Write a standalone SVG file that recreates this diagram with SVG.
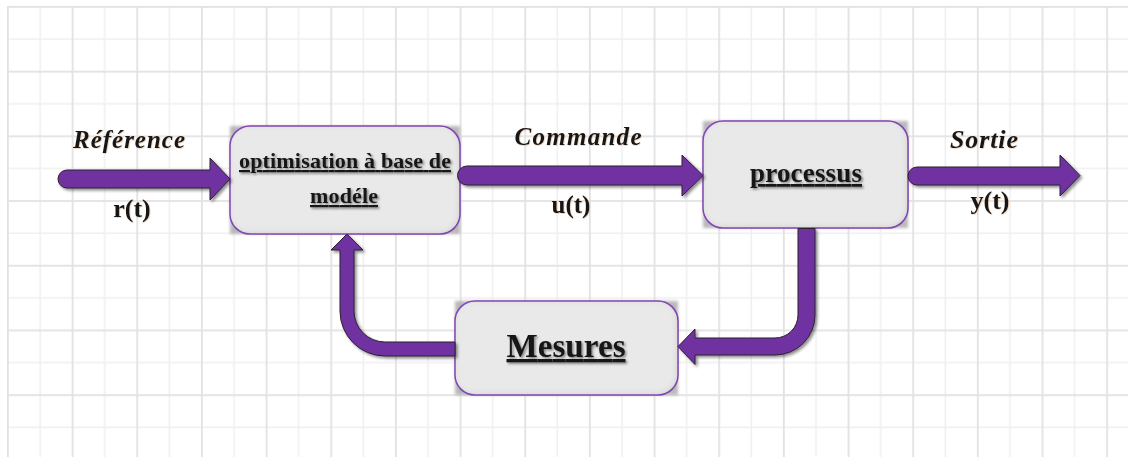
<svg xmlns="http://www.w3.org/2000/svg" width="1128" height="457" viewBox="0 0 1128 457">
  <style>
    .box { fill: #e9e9e9; stroke: #8a4cc0; stroke-width: 1.5; filter: url(#inset); }
    .box-back { fill: #a8a8a8; opacity: 0.8; filter: url(#soft); }
    .arrow { fill: #7030a0; stroke: #2b2230; stroke-width: 1; filter: url(#drop); }
    .lbl { font-family: "Liberation Serif", "DejaVu Serif", serif; font-weight: bold; fill: #141414; }
    .sig { font-style: italic; text-anchor: middle; filter: url(#txt); }
    .var { text-anchor: middle; filter: url(#txt); }
    .node-lbl { text-anchor: middle; text-decoration: underline; filter: url(#txtbox); }
  </style>
  <defs>
    <pattern id="grid" patternUnits="userSpaceOnUse" x="7" y="6" width="64.66" height="64.7">
      <rect x="0" y="0" width="64.66" height="64.7" fill="#ffffff"/>
      <rect x="32.33" y="0" width="1.5" height="64.7" fill="#f0f0f0"/>
      <rect x="0" y="32.35" width="64.66" height="1.5" fill="#f0f0f0"/>
      <rect x="0" y="0" width="1.8" height="64.7" fill="#e2e2e2"/>
      <rect x="0" y="0" width="64.66" height="1.8" fill="#e2e2e2"/>
    </pattern>
    <filter id="soft" x="-10%" y="-10%" width="120%" height="120%">
      <feGaussianBlur stdDeviation="1.8"/>
    </filter>
    <filter id="inset" x="-5%" y="-5%" width="110%" height="110%">
      <feFlood flood-color="#000" flood-opacity="0.3"/>
      <feComposite in2="SourceAlpha" operator="out"/>
      <feGaussianBlur stdDeviation="3"/>
      <feOffset dx="-1.5" dy="-1"/>
      <feComposite in2="SourceAlpha" operator="in" result="inner"/>
      <feMerge>
        <feMergeNode in="SourceGraphic"/>
        <feMergeNode in="inner"/>
      </feMerge>
    </filter>
    <filter id="drop" x="-10%" y="-20%" width="120%" height="140%">
      <feDropShadow dx="2" dy="2" stdDeviation="1.5" flood-color="#000" flood-opacity="0.45"/>
    </filter>
    <filter id="txt" x="-10%" y="-20%" width="120%" height="140%">
      <feDropShadow dx="0.7" dy="0.7" stdDeviation="0.4" flood-color="#b07030" flood-opacity="0.35"/>
    </filter>
    <filter id="txtbox" x="-10%" y="-20%" width="120%" height="140%">
      <feDropShadow dx="1.6" dy="1.6" stdDeviation="0.8" flood-color="#000" flood-opacity="0.45"/>
    </filter>
  </defs>

  <!-- squared paper background -->
  <rect x="0" y="0" width="1128" height="457" fill="#ffffff"/>
  <rect x="7" y="6" width="1121" height="451" fill="url(#grid)"/>

  <!-- nodes -->
  <g id="node-optimisation">
    <rect class="box-back" x="230" y="126" width="230" height="108"/>
    <rect class="box" x="230" y="126" width="230" height="108" rx="20" ry="20"/>
    <text class="lbl node-lbl" x="345" y="168" font-size="22" textLength="212">optimisation à base de</text>
    <text class="lbl node-lbl" x="344" y="203" font-size="22" textLength="68">modéle</text>
  </g>

  <g id="node-processus">
    <rect class="box-back" x="703" y="121" width="205" height="107"/>
    <rect class="box" x="703" y="121" width="205" height="107" rx="20" ry="20"/>
    <text class="lbl node-lbl" x="806" y="182" font-size="27" textLength="112">processus</text>
  </g>

  <g id="node-mesures">
    <rect class="box-back" x="455" y="301" width="223" height="94"/>
    <rect class="box" x="455" y="301" width="223" height="94" rx="20" ry="20"/>
    <text class="lbl node-lbl" x="566" y="357" font-size="33" textLength="119">Mesures</text>
  </g>

  <!-- connectors -->
  <g id="connectors">
    <!-- reference input -->
    <path class="arrow" d="M67,170 H210 V158 L230,179 L210,200 V188 H67 A9,9 0 0 1 67,170 Z"/>
    <!-- command to process -->
    <path class="arrow" d="M467,166 H682 V155 L703,175.5 L682,196 V185 H467 A9.5,9.5 0 0 1 467,166 Z"/>
    <!-- process output -->
    <path class="arrow" d="M917,167 H1060 V155 L1080,175.5 L1060,196 V185 H917 A9,9 0 0 1 917,167 Z"/>
    <!-- process to measurement -->
    <path class="arrow" d="M798,228.5 H815 V315 A40,40 0 0 1 775,355 H695 V364.5 L678,346.5 L695,329 V338 H775 A23,23 0 0 0 798,315 Z"/>
    <!-- measurement feedback to optimiser -->
    <path class="arrow" d="M455,342 H385 A31,31 0 0 1 354,311 V250 H363 L347,234 L331,250 H340 V311 A45,45 0 0 0 385,356 H455 Z"/>
  </g>

  <!-- signal labels -->
  <g id="labels">
    <text class="lbl sig" x="129" y="148" font-size="25" textLength="112">Référence</text>
    <text class="lbl var" x="132" y="217" font-size="26">r(t)</text>
    <text class="lbl sig" x="578" y="145" font-size="25" textLength="127">Commande</text>
    <text class="lbl var" x="571" y="213" font-size="25">u(t)</text>
    <text class="lbl sig" x="984" y="148" font-size="26" textLength="68">Sortie</text>
    <text class="lbl var" x="990" y="209" font-size="26">y(t)</text>
  </g>
</svg>
